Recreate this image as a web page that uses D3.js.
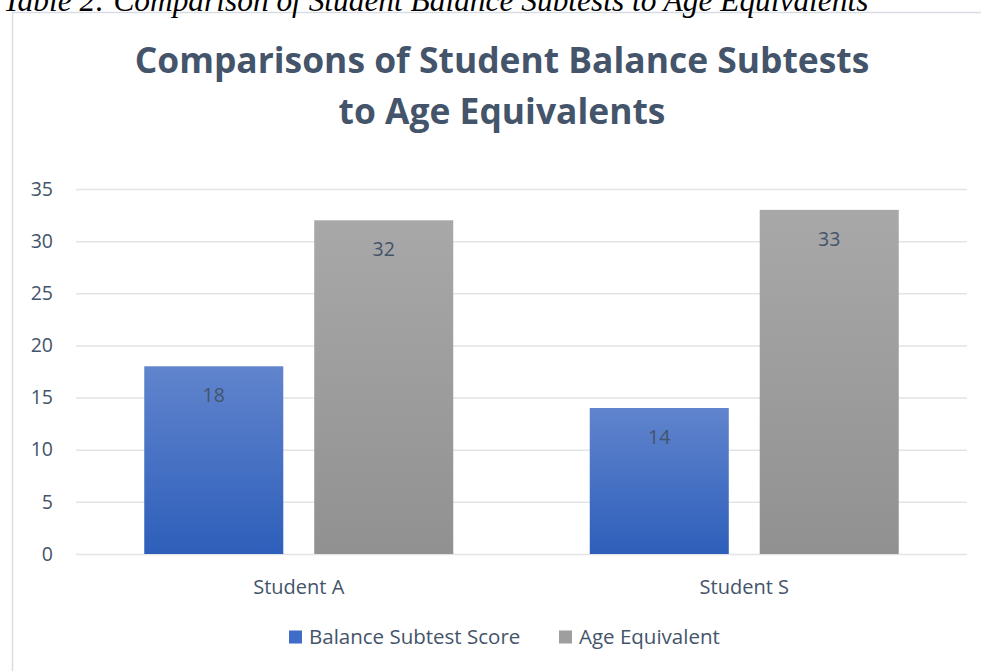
<!DOCTYPE html>
<html><head><meta charset="utf-8">
<script src="https://cdn.jsdelivr.net/npm/d3@7"></script>
<style>html,body{margin:0;padding:0;background:#fff;}svg{display:block;}</style>
</head><body>
<svg id="c" width="981" height="671"></svg>
<script>
const caption = "Table 2: Comparison of Student Balance Subtests to Age Equivalents";
const titleLines = ["Comparisons of Student Balance Subtests", "to Age Equivalents"];
const categories = ["Student A", "Student S"];
const seriesNames = ["Balance Subtest Score", "Age Equivalent"];
const balanceScores = [18, 14];
const ageEquivalents = [32, 33];
const yTicks = [0, 5, 10, 15, 20, 25, 30, 35];

const svg = d3.select("#c");
const font = "'Open Sans', Calibri, Carlito, sans-serif";
const textCol = "#44546a";

// gradients
const defs = svg.append("defs");
const grads = [["gBlue", "#6184cd", "#2d5fba"], ["gGray", "#a8a8a8", "#919191"]];
grads.forEach(([id, c1, c2]) => {
  const g = defs.append("linearGradient").attr("id", id).attr("x1", 0).attr("y1", 0).attr("x2", 0).attr("y2", 1);
  g.append("stop").attr("offset", "0%").attr("stop-color", c1);
  g.append("stop").attr("offset", "100%").attr("stop-color", c2);
});
const fills = ["url(#gBlue)", "url(#gGray)"];
const legendFills = ["#3f6cc6", "#9e9e9e"];

// chart border
svg.append("rect").attr("x", 12.5).attr("y", 12.5).attr("width", 980).attr("height", 680)
  .attr("fill", "none").attr("stroke", "#d9dde3").attr("stroke-width", 1.5);

// caption (cut at top)
const cap = svg.append("text").attr("x", 3).attr("y", 11)
  .attr("font-family", "'Liberation Serif', 'Times New Roman', serif").attr("font-style", "italic")
  .attr("font-size", 30).attr("fill", "#000").text(caption);
const cw = cap.node().getComputedTextLength();
cap.attr("font-size", 30 * 866 / cw);

// title
const tl = svg.append("g");
[[titleLines[0], 73, 735], [titleLines[1], 124, 327]].forEach(([t, yy, w]) => {
  const e = tl.append("text").attr("x", 502).attr("y", yy).attr("text-anchor", "middle")
    .attr("font-family", font).attr("font-weight", "bold").attr("font-size", 36)
    .attr("fill", textCol).text(t);
  const lw = e.node().getComputedTextLength();
  e.attr("font-size", 36 * w / lw);
});

const pLeft = 76, pRight = 967, pTop = 189, pBottom = 554;
const y = d3.scaleLinear().domain([0, 35]).range([pBottom, pTop]);
const x0 = d3.scaleBand().domain(categories).range([pLeft, pRight]).paddingInner(0.3064).paddingOuter(0.1532);
const x1 = d3.scaleBand().domain(seriesNames).range([0, x0.bandwidth()]).paddingInner(0.182).paddingOuter(0);

// gridlines
svg.append("g").selectAll("line").data(yTicks).join("line")
  .attr("x1", pLeft).attr("x2", pRight).attr("y1", d => y(d) + 0.5).attr("y2", d => y(d) + 0.5)
  .attr("stroke", "#e1e4e8").attr("stroke-width", 1.5);

// y axis labels
const yAxis = d3.axisLeft(y).tickValues(yTicks).tickSize(0).tickPadding(0);
const ya = svg.append("g").attr("transform", `translate(${53},0)`).call(yAxis);
ya.select(".domain").remove();
ya.selectAll("text").attr("font-family", font).attr("font-size", 19.5).attr("fill", textCol);

// bars
const rows = categories.map((c, i) => ({ cat: c, vals: [balanceScores[i], ageEquivalents[i]] }));
const groups = svg.append("g").selectAll("g").data(rows).join("g")
  .attr("transform", d => `translate(${x0(d.cat)},0)`);
groups.selectAll("rect").data(d => d.vals.map((v, k) => ({ k, v })))
  .join("rect")
  .attr("x", d => x1(seriesNames[d.k])).attr("width", x1.bandwidth())
  .attr("y", d => y(d.v)).attr("height", d => y(0) - y(d.v))
  .attr("fill", d => fills[d.k]);
groups.selectAll("text.v").data(d => d.vals.map((v, k) => ({ k, v })))
  .join("text").attr("class", "v")
  .attr("x", d => x1(seriesNames[d.k]) + x1.bandwidth() / 2)
  .attr("y", d => y(d.v) + 29).attr("dy", "0.35em").attr("text-anchor", "middle")
  .attr("font-family", font).attr("font-size", 19.5).attr("fill", textCol)
  .text(d => d.v);

// x axis labels
const xAxis = d3.axisBottom(x0).tickSize(0).tickPadding(0);
const xa = svg.append("g").attr("transform", `translate(0,${587})`).call(xAxis);
xa.select(".domain").remove();
xa.selectAll("text").attr("dy", "0.35em").attr("font-family", font).attr("font-size", 20).attr("fill", textCol);

// legend
const legX = [289, 559];
const lg = svg.append("g").selectAll("g").data(seriesNames).join("g")
  .attr("transform", (d, i) => `translate(${legX[i]},637)`);
lg.append("rect").attr("x", 0).attr("y", -6.5).attr("width", 13).attr("height", 13)
  .attr("fill", (d, i) => legendFills[i]);
lg.append("text").attr("x", 20).attr("dy", "0.35em").attr("font-family", font)
  .attr("font-size", 20.5).attr("fill", textCol).text(d => d);
</script>
</body></html>
